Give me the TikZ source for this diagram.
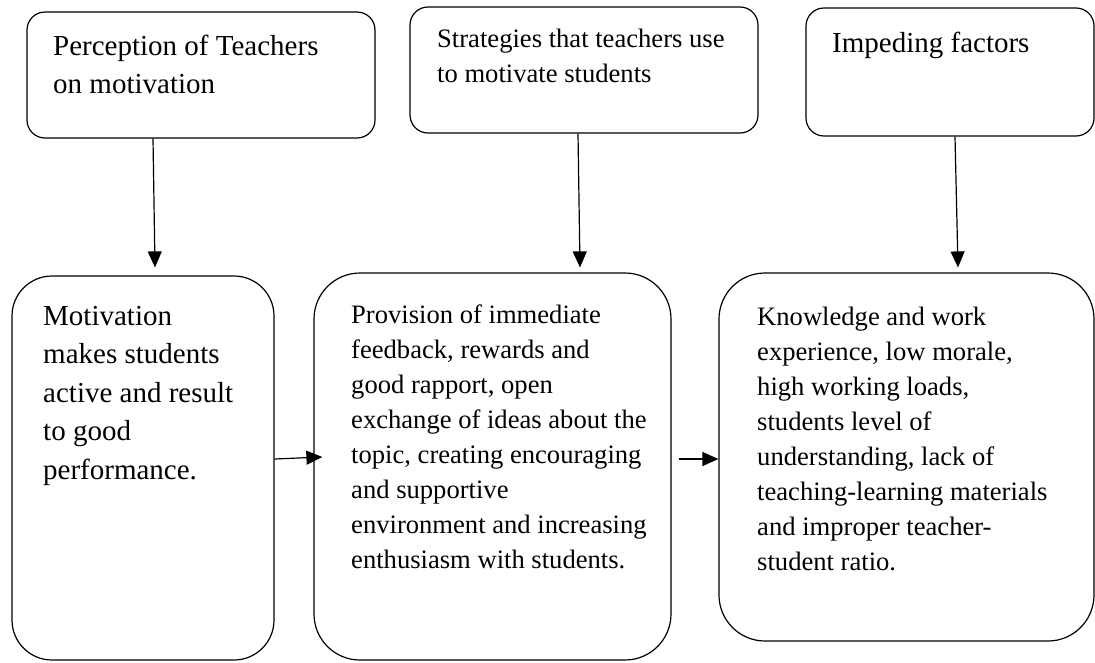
\documentclass[tikz,border=0pt]{standalone}
\usepackage{fontspec}
\setmainfont{Liberation Serif}
\usetikzlibrary{arrows.meta}

\newcommand\boxlines[1]{\begin{tabular}[t]{@{}l@{}}#1\end{tabular}}

\tikzset{
  box/.style={draw, line width=1.2pt, rounded corners=#1, inner sep=0pt},
  box/.default=18pt,
  big/.style={font=\fontsize{29}{38.5}\selectfont, inner sep=0pt, anchor=base west},
  small/.style={font=\fontsize{26.6}{35}\selectfont, inner sep=0pt, anchor=base west},
  arr/.style={line width=1.2pt, -{Triangle[length=16pt, width=14pt]}}
}

\begin{document}
\begin{tikzpicture}[x=1pt, y=-1pt]
        \useasboundingbox (0,0) rectangle (1095,662);

        \node[box, minimum width=348pt, minimum height=126pt] (P) at (201,75) {};
        \node[box, minimum width=348pt, minimum height=126pt] (S) at (584,70) {};
        \node[box, minimum width=288pt, minimum height=128pt] (I) at (950,72) {};
        \node[box=40pt, minimum width=262pt, minimum height=384pt] (M) at (143,468) {};
        \node[box=46pt, minimum width=357pt, minimum height=387pt] (F) at (492.5,466.5) {};
        \node[box=46pt, minimum width=375pt, minimum height=368pt] (K) at (906.5,457) {};

        \node[big] (Pt) at (53,55) {\boxlines{Perception of Teachers\\on motivation}};
        \node[small] (St) at (437,47) {\boxlines{Strategies that teachers use\\to motivate students}};
        \node[big] (It) at (832,52) {\boxlines{Impeding factors}};
        \node[big] (Mt) at (43,325) {\boxlines{Motivation\\makes students\\active and result\\to good\\performance.}};
        \node[small] (Ft) at (351,323) {\boxlines{Provision of immediate\\feedback, rewards and\\good rapport, open\\exchange of ideas about the\\topic, creating encouraging\\and supportive\\environment and increasing\\enthusiasm with students.}};
        \node[small] (Kt) at (757,325) {\boxlines{Knowledge and work\\experience, low morale,\\high working loads,\\students level of\\understanding, lack of\\teaching-learning materials\\and improper teacher-\\student ratio.}};

        \draw[arr] ([xshift=-48pt]P.south) -- ([xshift=12pt, yshift=8pt]M.north);
        \draw[arr] ([xshift=-6pt]S.south) -- ([xshift=87.5pt, yshift=5pt]F.north);
        \draw[arr] ([xshift=5pt]I.south) -- ([xshift=51.5pt, yshift=5pt]K.north);
        \draw[arr] ([yshift=9pt]M.east) -- ([xshift=9pt, yshift=9.5pt]F.west);
        \draw[arr] ([xshift=7pt, yshift=7.5pt]F.east) -- ([yshift=-2pt]K.west);
      \end{tikzpicture}
\end{document}
